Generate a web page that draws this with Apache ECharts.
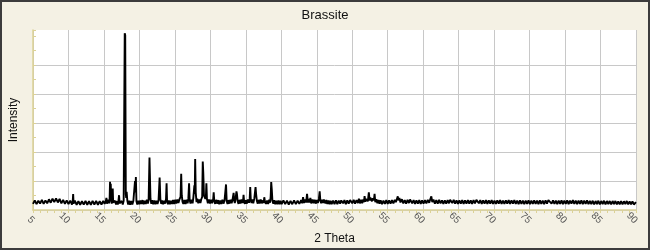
<!DOCTYPE html>
<html>
<head>
<meta charset="utf-8">
<script src="https://cdn.jsdelivr.net/npm/echarts@6/dist/echarts.min.js"></script>
<style>
html,body{margin:0;padding:0;background:#F4F1E4;}
#chart{width:650px;height:250px;}
</style>
</head>
<body>
<div id="chart"></div>
<script>
// Chart text
var chartTitle = 'Brassite';
var xName = '2 Theta';
var yName = 'Intensity';
var xMin = 5, xMax = 90, xStep = 5;
var yMin = 0, yMax = 6.2, yStep = 1;

// XRD pattern: [2 theta, relative intensity]
var pattern = [
[5.0,.21],[5.25,.33],[5.5,.20],[5.75,.32],[6.0,.22],[6.25,.35],[6.5,.21],[6.75,.33],[7.0,.23],[7.25,.37],
[7.5,.25],[7.75,.39],[8.0,.27],[8.25,.40],[8.5,.26],[8.75,.38],[9.0,.23],[9.25,.35],[9.5,.21],[9.75,.33],
[10.0,.20],[10.25,.32],[10.5,.19],[10.6,.30],[10.66,.55],[10.72,.22],[10.9,.32],[11.15,.18],[11.4,.30],[11.65,.18],
[11.9,.30],[12.15,.19],[12.4,.31],[12.65,.18],[12.9,.30],[13.15,.18],[13.4,.31],[13.65,.19],[13.9,.31],[14.15,.18],
[14.4,.30],[14.65,.19],[14.9,.31],[15.1,.21],[15.28,.32],[15.35,.42],[15.42,.22],[15.6,.35],[15.72,.23],[15.8,.36],
[15.86,.97],[15.92,.55],[15.96,.90],[16.02,.33],[16.1,.22],[16.18,.34],[16.24,.74],[16.3,.25],[16.42,.19],[16.55,.32],
[16.7,.19],[16.85,.31],[16.95,.19],[17.05,.32],[17.13,.51],[17.2,.23],[17.35,.18],[17.5,.31],[17.65,.19],[17.78,.32],
[17.85,.30],[17.93,6.09],[18.0,6.02],[18.08,.55],[18.14,.42],[18.2,.63],[18.3,.32],[18.42,.19],[18.55,.32],[18.7,.18],
[18.85,.31],[19.0,.19],[19.15,.32],[19.3,.30],[19.38,1.0],[19.44,.60],[19.5,1.14],[19.58,.30],[19.7,.19],[19.85,.32],
[20.0,.20],[20.15,.33],[20.3,.21],[20.45,.34],[20.6,.20],[20.75,.32],[20.9,.21],[21.05,.35],[21.2,.22],[21.3,.36],
[21.42,1.81],[21.48,1.75],[21.56,.38],[21.68,.21],[21.8,.34],[21.95,.20],[22.1,.33],[22.25,.20],[22.4,.32],[22.55,.21],
[22.7,.34],[22.85,1.12],[22.95,.38],[23.08,.21],[23.2,.33],[23.35,.20],[23.5,.32],[23.62,.22],[23.75,.38],[23.83,.92],
[23.9,.30],[24.02,.20],[24.15,.33],[24.3,.20],[24.45,.32],[24.6,.21],[24.75,.34],[24.9,.21],[25.05,.35],[25.2,.22],
[25.35,.36],[25.5,.24],[25.65,.37],[25.8,.45],[25.89,1.25],[25.97,.50],[26.08,.28],[26.2,.21],[26.35,.34],[26.5,.21],
[26.65,.35],[26.8,.23],[26.9,.40],[27.0,.92],[27.08,.35],[27.2,.22],[27.35,.35],[27.5,.23],[27.6,.42],[27.75,.85],
[27.8,.55],[27.86,1.76],[27.94,.60],[28.05,.27],[28.15,.39],[28.3,.23],[28.45,.36],[28.6,.24],[28.72,.37],[28.85,.45],
[28.93,1.67],[29.0,1.30],[29.1,.50],[29.2,.55],[29.3,.38],[29.38,.50],[29.44,.92],[29.52,.38],[29.65,.23],[29.8,.36],
[29.95,.22],[30.1,.35],[30.25,.23],[30.4,.38],[30.47,.61],[30.55,.32],[30.68,.21],[30.8,.35],[30.95,.22],[31.1,.34],
[31.25,.20],[31.4,.33],[31.55,.21],[31.7,.35],[31.85,.22],[32.0,.33],[32.12,.35],[32.21,.88],[32.3,.31],[32.42,.21],
[32.55,.34],[32.7,.22],[32.85,.35],[33.0,.23],[33.12,.35],[33.2,.36],[33.28,.59],[33.36,.32],[33.45,.24],[33.55,.38],
[33.68,.64],[33.75,.55],[33.85,.30],[33.97,.21],[34.1,.35],[34.25,.22],[34.4,.36],[34.55,.24],[34.62,.34],[34.68,.52],
[34.76,.28],[34.88,.21],[35.0,.34],[35.15,.22],[35.3,.36],[35.45,.25],[35.55,.40],[35.62,.79],[35.7,.35],[35.8,.24],
[35.9,.36],[36.05,.23],[36.2,.40],[36.3,.45],[36.37,.79],[36.45,.55],[36.55,.32],[36.68,.22],[36.8,.35],[36.95,.22],
[37.1,.36],[37.25,.23],[37.4,.33],[37.52,.24],[37.6,.44],[37.7,.29],[37.85,.21],[38.0,.33],[38.15,.21],[38.3,.35],
[38.42,.25],[38.5,.45],[38.58,.96],[38.66,.70],[38.75,.32],[38.88,.22],[39.0,.34],[39.15,.20],[39.3,.32],[39.45,.20],
[39.6,.33],[39.75,.20],[39.9,.32],[40.05,.20],[40.3,.33],[40.55,.20],[40.8,.32],[41.05,.19],[41.3,.31],[41.55,.20],
[41.8,.33],[42.05,.20],[42.3,.32],[42.55,.21],[42.8,.34],[42.95,.23],[43.07,.44],[43.2,.24],[43.35,.36],[43.5,.26],
[43.63,.56],[43.75,.26],[43.9,.38],[44.0,.26],[44.1,.42],[44.22,.23],[44.4,.36],[44.55,.23],[44.7,.35],[44.85,.22],
[45.0,.34],[45.15,.24],[45.3,.38],[45.41,.64],[45.5,.33],[45.62,.23],[45.75,.35],[45.9,.24],[46.0,.36],[46.11,.41],
[46.22,.23],[46.35,.34],[46.5,.21],[46.65,.33],[46.8,.20],[46.95,.32],[47.1,.20],[47.3,.32],[47.5,.20],[47.7,.33],
[47.9,.20],[48.1,.32],[48.3,.22],[48.45,.33],[48.6,.39],[48.72,.23],[48.9,.34],[49.1,.20],[49.3,.33],[49.5,.22],
[49.7,.34],[49.86,.38],[50.0,.23],[50.2,.35],[50.4,.22],[50.6,.34],[50.8,.24],[50.94,.39],[51.08,.23],[51.25,.35],
[51.4,.23],[51.55,.36],[51.65,.27],[51.74,.48],[51.85,.28],[51.95,.38],[52.1,.38],[52.2,.30],[52.34,.61],[52.45,.33],
[52.55,.43],[52.67,.45],[52.78,.30],[52.9,.40],[53.05,.33],[53.15,.56],[53.25,.27],[53.4,.37],[53.55,.23],[53.7,.34],
[53.85,.22],[54.0,.33],[54.2,.20],[54.4,.32],[54.6,.21],[54.8,.34],[55.0,.21],[55.2,.33],[55.4,.22],[55.6,.34],
[55.8,.23],[56.0,.35],[56.15,.27],[56.3,.38],[56.42,.47],[56.52,.33],[56.65,.41],[56.8,.26],[57.0,.37],[57.2,.23],
[57.4,.34],[57.6,.22],[57.8,.35],[58.0,.24],[58.15,.36],[58.29,.39],[58.45,.23],[58.65,.34],[58.85,.21],[59.05,.33],
[59.25,.22],[59.45,.34],[59.65,.21],[59.85,.33],[60.05,.22],[60.25,.34],[60.45,.23],[60.65,.35],[60.85,.25],[61.0,.37],
[61.15,.47],[61.28,.27],[61.45,.36],[61.65,.22],[61.85,.34],[62.05,.22],[62.25,.35],[62.45,.23],[62.65,.33],[62.85,.21],
[63.05,.33],[63.25,.22],[63.45,.34],[63.65,.23],[63.8,.35],[63.96,.41],[64.1,.24],[64.3,.35],[64.5,.22],[64.7,.33],
[64.9,.21],[65.1,.33],[65.3,.22],[65.5,.34],[65.7,.21],[65.9,.33],[66.1,.22],[66.3,.34],[66.5,.22],[66.7,.33],
[66.9,.21],[67.1,.34],[67.3,.23],[67.5,.35],[67.7,.37],[67.85,.23],[68.05,.34],[68.25,.21],[68.45,.33],[68.65,.22],
[68.85,.34],[69.05,.21],[69.25,.33],[69.45,.22],[69.65,.34],[69.85,.21],[70.05,.32],[70.25,.21],[70.45,.33],[70.65,.22],
[70.85,.34],[71.05,.21],[71.25,.32],[71.45,.21],[71.65,.33],[71.85,.22],[72.05,.34],[72.25,.21],[72.45,.33],[72.65,.22],
[72.85,.34],[73.05,.21],[73.25,.32],[73.45,.20],[73.65,.33],[73.85,.21],[74.05,.32],[74.25,.20],[74.45,.32],[74.65,.21],
[74.85,.33],[75.05,.20],[75.25,.32],[75.45,.21],[75.65,.33],[75.85,.21],[76.05,.32],[76.25,.20],[76.45,.33],[76.65,.21],
[76.85,.32],[77.05,.20],[77.25,.33],[77.45,.22],[77.65,.34],[77.9,.36],[78.1,.22],[78.3,.33],[78.5,.21],[78.7,.32],
[78.9,.20],[79.1,.32],[79.3,.21],[79.5,.33],[79.7,.20],[79.9,.32],[80.1,.21],[80.3,.33],[80.5,.20],[80.7,.32],
[80.9,.22],[81.1,.34],[81.3,.21],[81.5,.32],[81.7,.20],[81.9,.32],[82.1,.21],[82.3,.33],[82.5,.20],[82.7,.32],
[82.9,.21],[83.1,.33],[83.3,.20],[83.5,.31],[83.7,.20],[83.9,.32],[84.1,.19],[84.3,.31],[84.5,.20],[84.7,.32],
[84.9,.19],[85.1,.31],[85.3,.20],[85.5,.32],[85.7,.19],[85.9,.31],[86.1,.20],[86.3,.31],[86.5,.19],[86.7,.31],
[86.9,.20],[87.1,.31],[87.3,.19],[87.5,.30],[87.7,.19],[87.9,.31],[88.1,.19],[88.3,.30],[88.5,.20],[88.7,.31],
[88.9,.19],[89.1,.30],[89.3,.19],[89.5,.30],[89.7,.19],[90.0,.27]
];

var axisYellow = '#DCD296';
var gridGray = '#C8C8C8';
var font = 'Liberation Sans, Arial, sans-serif';
// grid line colours from the bottom (0) up to 6; the top line is not drawn in the original
var yGridColors = [gridGray, gridGray, gridGray, gridGray, gridGray, gridGray, 'rgba(0,0,0,0)'];

var chart = echarts.init(document.getElementById('chart'), null, {renderer: 'canvas'});
chart.setOption({
  backgroundColor: '#F4F1E4',
  animation: false,
  title: {
    text: chartTitle,
    left: 'center',
    top: 4,
    textStyle: {fontSize: 13, fontWeight: 'normal', color: '#111', fontFamily: font}
  },
  grid: {left: 31, right: 14, top: 30, bottom: 40, show: true, backgroundColor: '#FFFFFF', borderWidth: 0},
  xAxis: {
    type: 'value',
    min: xMin, max: xMax, interval: xStep,
    name: xName,
    nameLocation: 'middle',
    nameGap: 21,
    nameTextStyle: {fontSize: 12, color: '#111', fontFamily: font},
    axisLine: {show: true, lineStyle: {color: axisYellow, width: 1.5}},
    axisTick: {show: true, inside: false, length: 3, lineStyle: {color: axisYellow}},
    minorTick: {show: true, splitNumber: 5, length: 3, lineStyle: {color: axisYellow}},
    axisLabel: {rotate: -45, align: 'right', verticalAlign: 'middle', margin: 12, fontSize: 10, color: '#555', fontFamily: font},
    splitLine: {show: true, lineStyle: {color: gridGray, width: 1}}
  },
  yAxis: {
    type: 'value',
    min: yMin, max: yMax, interval: yStep,
    name: yName,
    nameLocation: 'middle',
    nameGap: 13,
    nameTextStyle: {fontSize: 12, color: '#111', fontFamily: font},
    axisLine: {show: true, lineStyle: {color: axisYellow, width: 1.5}},
    axisTick: {show: true, inside: true, length: 3, lineStyle: {color: axisYellow}},
    minorTick: {show: true, splitNumber: 2, length: 3, lineStyle: {color: axisYellow}},
    axisLabel: {show: false},
    splitLine: {show: true, showMinLine: true, showMaxLine: false, lineStyle: {color: yGridColors, width: 1}}
  },
  graphic: [{
    type: 'rect',
    shape: {x: 1, y: 1, width: 648, height: 248},
    style: {fill: 'none', stroke: '#3C3C3C', lineWidth: 2},
    silent: true,
    z: 100
  }],
  series: [{
    type: 'line',
    data: pattern,
    showSymbol: false,
    symbol: 'none',
    lineStyle: {color: '#000', width: 1.9},
    clip: true
  }]
});
</script>
</body>
</html>
